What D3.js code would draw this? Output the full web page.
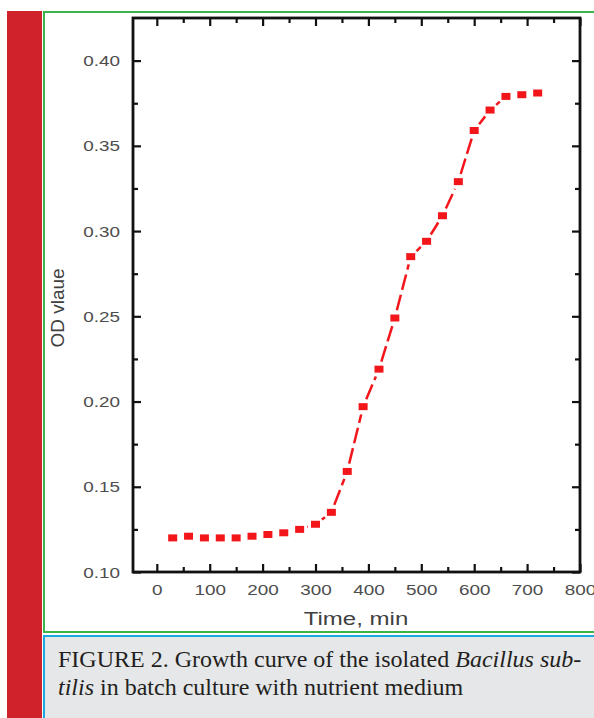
<!DOCTYPE html>
<html>
<head>
<meta charset="utf-8">
<script src="https://cdn.jsdelivr.net/npm/d3@7"></script>
<style>
  body { margin: 0; background: #fff; }
  svg { display: block; }
</style>
</head>
<body>
<svg id="chart" width="594" height="718"></svg>
<script>
// Sampling times (min) and optical density readings
const times = [30, 60, 90, 120, 150, 180, 210, 240, 270, 300, 330, 360,
               390, 420, 450, 480, 510, 540, 570, 600, 630, 660, 690, 720];
const odValues = [0.120, 0.121, 0.120, 0.120, 0.120, 0.121, 0.122, 0.123,
                  0.125, 0.128, 0.135, 0.159, 0.197, 0.219, 0.249, 0.285,
                  0.294, 0.309, 0.329, 0.359, 0.371, 0.379, 0.380, 0.381];

const xMajorTicks = [0, 100, 200, 300, 400, 500, 600, 700, 800];
const xMinorTicks = [50, 150, 250, 350, 450, 550, 650, 750];
const yMajorTicks = [0.10, 0.15, 0.20, 0.25, 0.30, 0.35, 0.40];
const yMinorTicks = [0.125, 0.175, 0.225, 0.275, 0.325, 0.375];
const yTickLabels = ["0.10", "0.15", "0.20", "0.25", "0.30", "0.35", "0.40"];

const xTitle = "Time, min";
const yTitle = "OD vlaue";

// Caption lines, each a list of [text, italic] runs
const captionLines = [
  [["FIGURE 2. Growth curve of the isolated ", false], ["Bacillus sub-", true]],
  [["tilis", true], [" in batch culture with nutrient medium", false]]
];

const svg = d3.select("#chart");
const sansFont = "'Liberation Sans', Arial, sans-serif";
const serifFont = "'Liberation Serif', 'Times New Roman', serif";

// Page furniture: side bar, figure frame, caption box
svg.append("rect").attr("x", 7).attr("y", 11).attr("width", 35).attr("height", 720)
  .attr("fill", "#d0222b");
svg.append("rect").attr("x", 44).attr("y", 12).attr("width", 580).attr("height", 620)
  .attr("fill", "#fff").attr("stroke", "#3db54a").attr("stroke-width", 2);
svg.append("rect").attr("x", 44).attr("y", 636).attr("width", 580).attr("height", 120)
  .attr("fill", "#e6e7e9").attr("stroke", "#1ba8e0").attr("stroke-width", 2);

// Plot scales
const plot = { left: 133, right: 580, top: 18, bottom: 572 };
const x = d3.scaleLinear().domain([-45, 800]).range([plot.left, plot.right]);
const y = d3.scaleLinear().domain([0.10, 0.425]).range([plot.bottom, plot.top]);

const stretch = 1.35;   // wide tick lettering
const labelColor = "#4d4d4d";

function styleAxis(g) {
  g.select(".domain").remove();
  g.selectAll(".tick line").attr("stroke", "#111").attr("stroke-width", 2.2);
}

// Bottom axis: major ticks with labels, minor ticks without
const bottom = svg.append("g").attr("transform", `translate(0,${plot.bottom})`)
  .call(d3.axisBottom(x).tickValues(xMajorTicks).tickSize(-8).tickFormat(d3.format("d")))
  .call(styleAxis);
bottom.selectAll(".tick text")
  .attr("y", null).attr("dy", null)
  .attr("transform", `translate(0,23) scale(${stretch},1)`)
  .attr("fill", labelColor).attr("font-size", 14).attr("font-family", sansFont);
svg.append("g").attr("transform", `translate(0,${plot.bottom})`)
  .call(d3.axisBottom(x).tickValues(xMinorTicks).tickSize(-5).tickFormat(""))
  .call(styleAxis);

// Top axis (mirror ticks only)
svg.append("g").attr("transform", `translate(0,${plot.top})`)
  .call(d3.axisTop(x).tickValues(xMajorTicks).tickSize(-8).tickFormat(""))
  .call(styleAxis);
svg.append("g").attr("transform", `translate(0,${plot.top})`)
  .call(d3.axisTop(x).tickValues(xMinorTicks).tickSize(-5).tickFormat(""))
  .call(styleAxis);

// Left axis with labels
const left = svg.append("g").attr("transform", `translate(${plot.left},0)`)
  .call(d3.axisLeft(y).tickValues(yMajorTicks).tickSize(-8)
    .tickFormat((d, i) => yTickLabels[i]))
  .call(styleAxis);
left.selectAll(".tick text")
  .attr("x", null).attr("dy", null)
  .attr("transform", `translate(-13,5) scale(${stretch},1)`)
  .attr("fill", labelColor).attr("font-size", 14).attr("font-family", sansFont);
svg.append("g").attr("transform", `translate(${plot.left},0)`)
  .call(d3.axisLeft(y).tickValues(yMinorTicks).tickSize(-5).tickFormat(""))
  .call(styleAxis);

// Right axis (mirror ticks only)
svg.append("g").attr("transform", `translate(${plot.right},0)`)
  .call(d3.axisRight(y).tickValues(yMajorTicks).tickSize(-8).tickFormat(""))
  .call(styleAxis);
svg.append("g").attr("transform", `translate(${plot.right},0)`)
  .call(d3.axisRight(y).tickValues(yMinorTicks).tickSize(-5).tickFormat(""))
  .call(styleAxis);

// Plot frame
svg.append("rect")
  .attr("x", plot.left).attr("y", plot.top)
  .attr("width", plot.right - plot.left).attr("height", plot.bottom - plot.top)
  .attr("fill", "none").attr("stroke", "#111").attr("stroke-width", 2.8);

// Axis titles
svg.append("text")
  .attr("transform", `translate(356,625) scale(1.3,1)`)
  .attr("text-anchor", "middle")
  .attr("font-family", sansFont).attr("font-size", 18.5).attr("fill", "#404040")
  .text(xTitle);
svg.append("text")
  .attr("transform", `translate(57,308) rotate(-90)`)
  .attr("text-anchor", "middle").attr("dy", "0.35em")
  .attr("font-family", sansFont).attr("font-size", 19).attr("fill", "#404040")
  .text(yTitle);

// Growth curve: dashed connectors that stop short of each marker
const points = times.map((t, i) => ({ px: x(t), py: y(odValues[i]) }));
const gap = 8;
const segments = d3.pairs(points).map(([a, b]) => {
  const dx = b.px - a.px, dy = b.py - a.py;
  const len = Math.hypot(dx, dy);
  const ux = dx / len, uy = dy / len;
  return { x1: a.px + ux * gap, y1: a.py + uy * gap,
           x2: b.px - ux * gap, y2: b.py - uy * gap, len: len - 2 * gap };
}).filter(s => s.len > 0.5);

svg.append("g").selectAll("line").data(segments).join("line")
  .attr("x1", d => d.x1).attr("y1", d => d.y1)
  .attr("x2", d => d.x2).attr("y2", d => d.y2)
  .attr("stroke", "#f2161b").attr("stroke-width", 2.5)
  .attr("stroke-dasharray", "16,5");

const mw = 9, mh = 7;
svg.append("g").selectAll("rect").data(times).join("rect")
  .attr("x", d => x(d) - mw / 2)
  .attr("y", (d, i) => y(odValues[i]) - mh / 2)
  .attr("width", mw).attr("height", mh)
  .attr("fill", "#f2161b");

// Caption
const caption = svg.append("text")
  .attr("font-family", serifFont).attr("font-size", 24).attr("fill", "#231f20");
const baselines = [667, 695];
captionLines.forEach((runs, li) => {
  runs.forEach(([txt, ital], ri) => {
    const span = caption.append("tspan").text(txt)
      .attr("font-style", ital ? "italic" : "normal");
    if (ri === 0) span.attr("x", 58).attr("y", baselines[li]);
  });
});
</script>
</body>
</html>
